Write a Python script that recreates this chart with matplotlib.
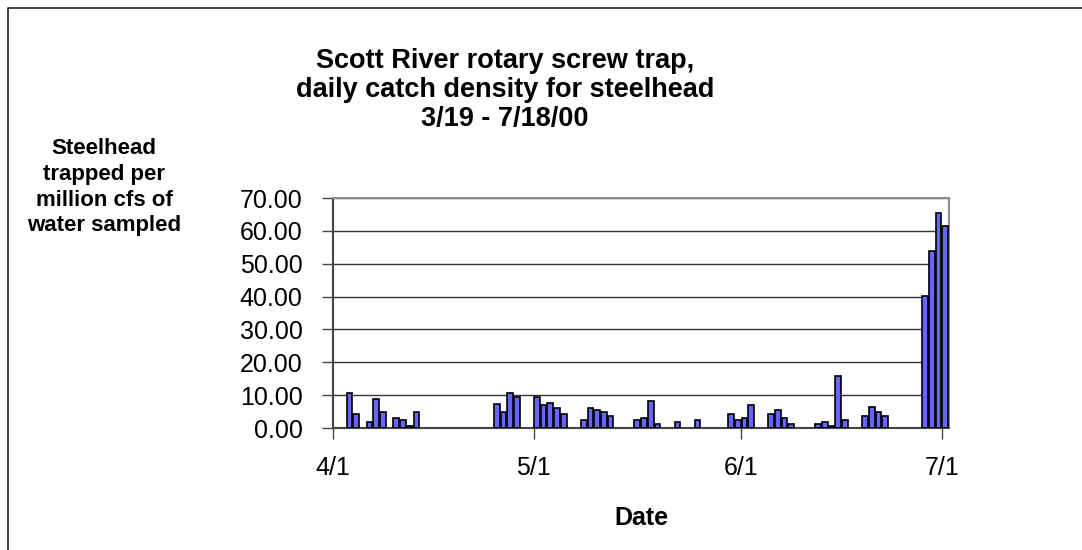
import datetime as dt
import matplotlib
matplotlib.use("Agg")
import matplotlib.pyplot as plt
from matplotlib.lines import Line2D

plt.rcParams['font.family'] = ['Liberation Sans', 'DejaVu Sans']

# daily catch density (steelhead per million cfs sampled), 2000
dates = ['4/3', '4/4', '4/6', '4/7', '4/8', '4/10', '4/11', '4/12', '4/13',
         '4/25', '4/26', '4/27', '4/28',
         '5/1', '5/2', '5/3', '5/4', '5/5',
         '5/8', '5/9', '5/10', '5/11', '5/12',
         '5/16', '5/17', '5/18', '5/19', '5/22', '5/25',
         '5/30', '5/31', '6/1', '6/2',
         '6/5', '6/6', '6/7', '6/8',
         '6/12', '6/13', '6/14', '6/15', '6/16',
         '6/19', '6/20', '6/21', '6/22',
         '6/28', '6/29', '6/30', '7/1']
density = [10.6, 4.3, 1.7, 8.7, 4.9, 3.1, 2.4, 0.7, 4.9,
           7.4, 5.0, 10.6, 9.4,
           9.4, 7.0, 7.6, 6.1, 4.4,
           2.3, 6.1, 5.6, 4.9, 3.7,
           2.3, 3.1, 8.1, 1.2, 1.7, 2.3,
           4.3, 2.3, 3.0, 6.9,
           4.3, 5.6, 3.1, 1.2,
           1.2, 1.7, 0.6, 15.7, 2.4,
           3.7, 6.3, 4.9, 3.7,
           40.1, 54.0, 65.3, 61.4]
tick_dates = ['4/1', '5/1', '6/1', '7/1']

start = dt.date(2000, 4, 1)


def day_num(s):
    m, d = s.split('/')
    return (dt.date(2000, int(m), int(d)) - start).days


days = [day_num(s) for s in dates]
tick_pos = [day_num(s) for s in tick_dates]

fig = plt.figure(figsize=(10.82, 5.5), dpi=100)
ax = fig.add_axes([333 / 1082, 1 - 428 / 550, 616 / 1082, 230 / 550])

ax.bar([d + 0.45 for d in days], density, width=0.85, color='#6666FF',
       edgecolor='black', linewidth=1.2, zorder=3)

ax.set_xlim(0, 92)
ax.set_ylim(0, 70)
ax.set_yticks(range(0, 71, 10))
ax.set_yticklabels(['%.2f' % v for v in range(0, 71, 10)], fontsize=18)
ax.set_xticks(tick_pos)
ax.set_xticklabels(tick_dates, fontsize=18)
ax.tick_params(axis='y', direction='out', length=8, width=1, color='#444444', pad=14)
ax.tick_params(axis='x', direction='out', length=8, width=1, color='#444444', pad=12)

ax.yaxis.grid(True, color='#333333', linewidth=1)
ax.set_axisbelow(True)
for s in ['top', 'right']:
    ax.spines[s].set_color('#8c8c8c')
    ax.spines[s].set_linewidth(1.5)
for s in ['left', 'bottom']:
    ax.spines[s].set_color('#444444')
    ax.spines[s].set_linewidth(1.5)

ax.set_xlabel('Date', fontsize=18, fontweight='bold', labelpad=19)

fig.text(505 / 1082, 1 - 48 / 550,
         'Scott River rotary screw trap,\ndaily catch density for steelhead\n3/19 - 7/18/00',
         ha='center', va='top', fontsize=19.5, fontweight='bold', linespacing=1.15)
fig.text(104 / 1082, 1 - 138 / 550,
         'Steelhead\ntrapped per\nmillion cfs of\nwater sampled',
         ha='center', va='top', fontsize=16, fontweight='bold', linespacing=1.3)

# chart area border (left and top edges visible)
fig.add_artist(Line2D([7.5 / 1082, 7.5 / 1082, 1.01], [-0.01, 1 - 7.5 / 550, 1 - 7.5 / 550],
                      transform=fig.transFigure, color='#222222', linewidth=1.2))

fig.savefig('out.png', dpi=100)
